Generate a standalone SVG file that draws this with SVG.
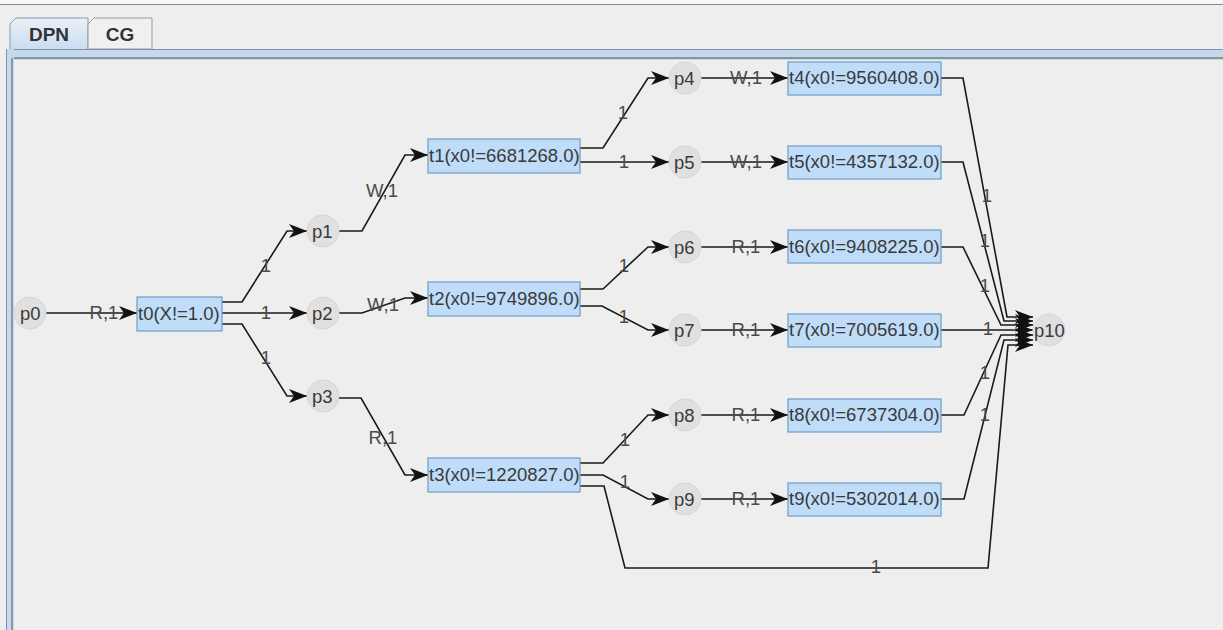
<svg xmlns="http://www.w3.org/2000/svg" width="1223" height="630" viewBox="0 0 1223 630">
<defs>
<style>
.bg{fill:#eeeeee}
.place circle{fill:#e0e0e0;stroke:#d6d6d6;stroke-width:1}
.trans rect{fill:#bfdcf8;stroke:#6f9cc6;stroke-width:1.2}
.lbl{font-family:"Liberation Sans",Arial,sans-serif;font-size:18.5px;fill:#3a3a3a;dominant-baseline:central}
.el{font-family:"Liberation Sans",Arial,sans-serif;font-size:18.5px;fill:#4a4a4a;text-anchor:middle;dominant-baseline:central}
.edges polyline{fill:none;stroke:#1a1a1a;stroke-width:1.6;marker-end:url(#arr)}
.tab{font-family:"Liberation Sans",Arial,sans-serif;font-size:19px;font-weight:bold;fill:#333333;text-anchor:middle}
</style>
<marker id="arr" markerUnits="userSpaceOnUse" markerWidth="20" markerHeight="14" refX="18" refY="7" orient="auto">
<path d="M0,0 L18,7 L0,14 L5,7 z" fill="#111111"/>
</marker>
<linearGradient id="tabsel" x1="0" y1="0" x2="0" y2="1">
<stop offset="0" stop-color="#eaf1f9"/>
<stop offset="1" stop-color="#c9dcef"/>
</linearGradient>
</defs>
<rect class="bg" x="0" y="0" width="1223" height="630"/>
<rect x="0" y="0" width="1223" height="4" fill="#f6f6f6"/>
<line x1="0" y1="4.5" x2="1223" y2="4.5" stroke="#8a8a8a" stroke-width="1"/>
<g id="tabs">
<path d="M10,50 L10,24 L16,18 L88,18 L88,50 z" fill="url(#tabsel)" stroke="#8a9aa8" stroke-width="1"/>
<text class="tab" x="49" y="41">DPN</text>
<path d="M88,49 L88,24 L94,18 L152,18 L152,49 z" fill="#f0f0f0" stroke="#9a9a9a" stroke-width="1"/>
<text class="tab" x="120" y="41">CG</text>
</g>
<g id="panel-border">
<rect x="6" y="49" width="1217" height="11" fill="#c6d9ec"/>
<line x1="6" y1="49.5" x2="1223" y2="49.5" stroke="#7f93a8" stroke-width="1"/>
<line x1="11" y1="58" x2="1223" y2="58" stroke="#6f8080" stroke-width="1.4"/>
<rect x="6" y="49" width="8" height="581" fill="#c6d9ec"/>
<line x1="6.5" y1="49" x2="6.5" y2="630" stroke="#7f93a8" stroke-width="1"/>
<line x1="12" y1="58" x2="12" y2="630" stroke="#6f8080" stroke-width="1.4"/>
</g>
<g class="edges" id="connectors">
<polyline points="46,313 137,313"/>
<polyline points="222,302 242,302 287,231 307,231"/>
<polyline points="222,313 307,313"/>
<polyline points="222,324 242,324 287,396 307,396"/>
<polyline points="339,231 362,231 405,155 428,155"/>
<polyline points="339,313 362,313 405,298 428,298"/>
<polyline points="339,398 361,398 405,475 428,475"/>
<polyline points="580,148 603,148 648,78 669,78"/>
<polyline points="580,162 669,162"/>
<polyline points="580,289 603,289 648,247 669,247"/>
<polyline points="580,306 602,306 648,330 669,330"/>
<polyline points="580,463 603,463 648,415 669,415"/>
<polyline points="580,475 603,475 648,499 669,499"/>
<polyline points="580,486 604,486 625,568 988,568 1008,345 1033,345"/>
<polyline points="701,78 788,78"/>
<polyline points="701,162 788,162"/>
<polyline points="701,247 788,247"/>
<polyline points="701,330 788,330"/>
<polyline points="701,415 788,415"/>
<polyline points="701,499 788,499"/>
<polyline points="941,78 963,78 1007,317 1033,317"/>
<polyline points="941,162 963,162 1004,321 1033,321"/>
<polyline points="941,247 963,247 1001,325 1033,325"/>
<polyline points="941,330 1033,330"/>
<polyline points="941,415 964,415 1001,335 1033,335"/>
<polyline points="941,499 964,499 1004,340 1033,340"/>
<g id="edge-labels">
<text class="el" x="104" y="312">R,1</text>
<text class="el" x="266" y="265">1</text>
<text class="el" x="266" y="312">1</text>
<text class="el" x="266" y="357">1</text>
<text class="el" x="382" y="190">W,1</text>
<text class="el" x="383" y="304">W,1</text>
<text class="el" x="383" y="437">R,1</text>
<text class="el" x="623" y="112">1</text>
<text class="el" x="624" y="161">1</text>
<text class="el" x="624" y="265">1</text>
<text class="el" x="624" y="316">1</text>
<text class="el" x="625" y="439">1</text>
<text class="el" x="625" y="481">1</text>
<text class="el" x="746" y="77">W,1</text>
<text class="el" x="746" y="161">W,1</text>
<text class="el" x="746" y="246">R,1</text>
<text class="el" x="746" y="329">R,1</text>
<text class="el" x="746" y="414">R,1</text>
<text class="el" x="746" y="498">R,1</text>
<text class="el" x="987" y="195">1</text>
<text class="el" x="985" y="240">1</text>
<text class="el" x="985" y="285">1</text>
<text class="el" x="988" y="328">1</text>
<text class="el" x="985" y="372">1</text>
<text class="el" x="985" y="414">1</text>
<text class="el" x="876" y="566">1</text>
</g>
</g>
<g id="p0" class="place"><circle cx="30" cy="313" r="16"/><text class="lbl" x="20" y="313">p0</text></g>
<g id="p1" class="place"><circle cx="323" cy="231" r="16"/><text class="lbl" x="312" y="231">p1</text></g>
<g id="p2" class="place"><circle cx="323" cy="313" r="16"/><text class="lbl" x="312" y="313">p2</text></g>
<g id="p3" class="place"><circle cx="323" cy="396" r="16"/><text class="lbl" x="312" y="396">p3</text></g>
<g id="p4" class="place"><circle cx="685" cy="78" r="16"/><text class="lbl" x="674" y="78">p4</text></g>
<g id="p5" class="place"><circle cx="685" cy="162" r="16"/><text class="lbl" x="674" y="162">p5</text></g>
<g id="p6" class="place"><circle cx="685" cy="247" r="16"/><text class="lbl" x="674" y="247">p6</text></g>
<g id="p7" class="place"><circle cx="685" cy="330" r="16"/><text class="lbl" x="674" y="330">p7</text></g>
<g id="p8" class="place"><circle cx="685" cy="415" r="16"/><text class="lbl" x="674" y="415">p8</text></g>
<g id="p9" class="place"><circle cx="685" cy="499" r="16"/><text class="lbl" x="674" y="499">p9</text></g>
<g id="p10" class="place"><circle cx="1049" cy="330" r="16"/><text class="lbl" x="1034" y="330">p10</text></g>
<g id="t0" class="trans"><rect x="137" y="297" width="85" height="34"/><text class="lbl" x="138" y="313">t0(X!=1.0)</text></g>
<g id="t1" class="trans"><rect x="428" y="139" width="152" height="34"/><text class="lbl" x="429" y="155">t1(x0!=6681268.0)</text></g>
<g id="t2" class="trans"><rect x="428" y="282" width="152" height="34"/><text class="lbl" x="429" y="298">t2(x0!=9749896.0)</text></g>
<g id="t3" class="trans"><rect x="428" y="458" width="152" height="34"/><text class="lbl" x="429" y="474">t3(x0!=1220827.0)</text></g>
<g id="t4" class="trans"><rect x="788" y="62" width="153" height="33"/><text class="lbl" x="789" y="77">t4(x0!=9560408.0)</text></g>
<g id="t5" class="trans"><rect x="788" y="146" width="153" height="33"/><text class="lbl" x="789" y="161">t5(x0!=4357132.0)</text></g>
<g id="t6" class="trans"><rect x="788" y="230" width="153" height="33"/><text class="lbl" x="789" y="246">t6(x0!=9408225.0)</text></g>
<g id="t7" class="trans"><rect x="788" y="314" width="153" height="33"/><text class="lbl" x="789" y="329">t7(x0!=7005619.0)</text></g>
<g id="t8" class="trans"><rect x="788" y="399" width="153" height="33"/><text class="lbl" x="789" y="414">t8(x0!=6737304.0)</text></g>
<g id="t9" class="trans"><rect x="788" y="483" width="153" height="33"/><text class="lbl" x="789" y="498">t9(x0!=5302014.0)</text></g>
</svg>
